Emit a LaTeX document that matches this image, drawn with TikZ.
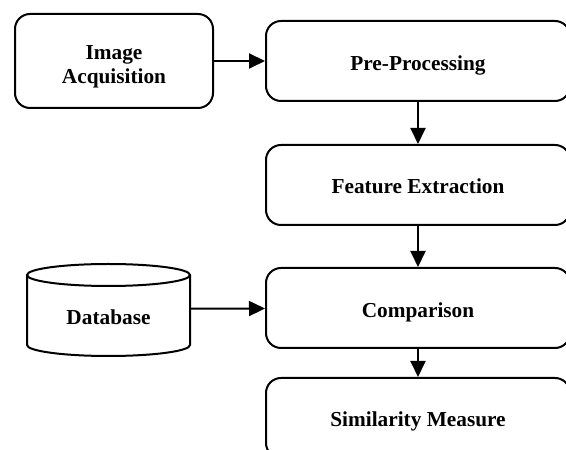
\documentclass[tikz,border=0pt]{standalone}
\usepackage{fontspec}
\setmainfont{Liberation Serif}
\usetikzlibrary{arrows.meta}
\begin{document}
\begin{tikzpicture}[x=1pt,y=1pt,
  box/.style={draw=black, line width=2pt, rounded corners=15pt, inner sep=0pt},
  conn/.style={line width=2pt, -{Triangle[length=16pt,width=15pt]}},
  lbl/.style={font=\fontsize{21.3}{24}\selectfont\bfseries, inner sep=0pt, align=center},
  blbl/.style={lbl, anchor=base}]
\useasboundingbox[fill=white] (0,0) rectangle (566,450);
\node[box, minimum width=198, minimum height=94] (ia) at (114,389) {};
\node[box, minimum width=304, minimum height=80] (pre) at (418,389) {};
\node[box, minimum width=304, minimum height=80] (fe) at (418,265) {};
\node[box, minimum width=304, minimum height=80] (cmp) at (418,142) {};
\node[box, minimum width=304, minimum height=80] (sim) at (418,32) {};
\node[lbl] (iat) at ([yshift=-5.5pt]ia.center) {Image\\Acquisition};
\node[blbl] (pret) at ([yshift=-9.5pt]pre.center) {Pre-Processing};
\node[blbl] (fet) at ([yshift=-9pt]fe.center) {Feature Extraction};
\node[blbl] (cmpt) at ([yshift=-9.5pt]cmp.center) {Comparison};
\node[blbl] (simt) at ([yshift=-9pt]sim.center) {Similarity Measure};
% database cylinder
\draw[line width=2pt] (108.5,175) ellipse[x radius=81.5, y radius=11];
\draw[line width=2pt] (27,175) -- (27,105) arc[start angle=180, end angle=360, x radius=81.5, y radius=11] -- (190,175);
\node[minimum width=163, minimum height=70, inner sep=0pt] (db) at (108.5,141) {};
\node[blbl] (dbt) at (108.5,125) {Database};
\draw[conn] (ia) -- (pre);
\draw[conn] (pre) -- (fe);
\draw[conn] (fe) -- (cmp);
\draw[conn] (cmp) -- (sim);
\draw[conn] (db) -- (cmp);
\end{tikzpicture}
\end{document}
